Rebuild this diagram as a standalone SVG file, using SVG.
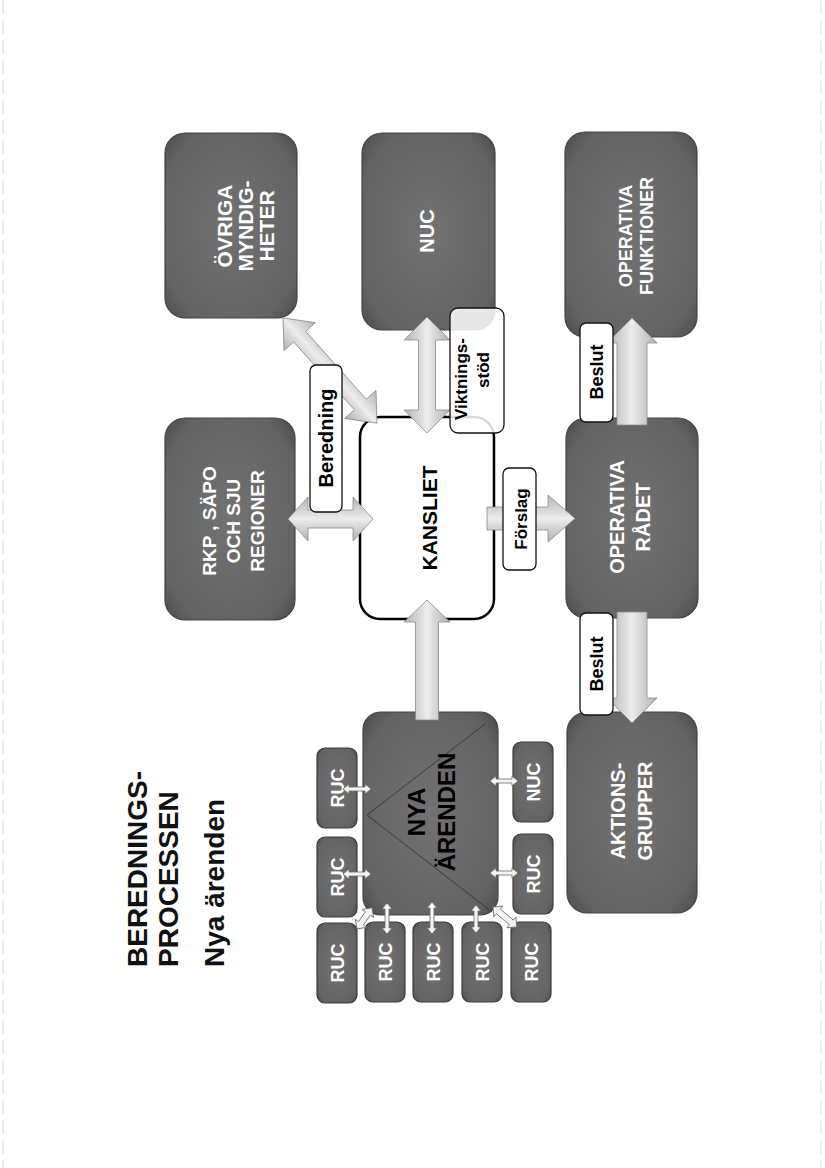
<svg xmlns="http://www.w3.org/2000/svg" width="825" height="1168" viewBox="0 0 825 1168">
  <defs>
    <radialGradient id="gbox" cx="50%" cy="50%" r="70%">
      <stop offset="0" stop-color="#727272"/>
      <stop offset="0.8" stop-color="#636363"/>
      <stop offset="1" stop-color="#4a4a4a"/>
    </radialGradient>
    <linearGradient id="gx" x1="0" y1="0" x2="1" y2="0">
      <stop offset="0" stop-color="#b4b4b4"/>
      <stop offset="0.5" stop-color="#ececec"/>
      <stop offset="1" stop-color="#b0b0b0"/>
    </linearGradient>
    <linearGradient id="gy" x1="0" y1="0" x2="0" y2="1">
      <stop offset="0" stop-color="#b4b4b4"/>
      <stop offset="0.5" stop-color="#ececec"/>
      <stop offset="1" stop-color="#b0b0b0"/>
    </linearGradient>
    <style>
      .box { fill: url(#gbox); stroke: #444; stroke-width: 1.2; }
      .sbox { fill: url(#gbox); stroke: #3c3c3c; stroke-width: 1.2; }
      .wt { font-family: "Liberation Sans", Arial, sans-serif; font-weight: bold; fill: #ffffff; text-anchor: middle; }
      .bt { font-family: "Liberation Sans", Arial, sans-serif; font-weight: bold; fill: #000000; text-anchor: middle; }
      .lbl { fill: #ffffff; stroke: #111; stroke-width: 1.3; }
      .bigx { fill: url(#gx); stroke: #8a8a8a; stroke-width: 0.8; }
      .bigy { fill: url(#gy); stroke: #8a8a8a; stroke-width: 0.8; }
      .sm { fill: #f4f4f4; stroke: #6a6a6a; stroke-width: 0.8; }
      .title { font-family: "Liberation Sans", Arial, sans-serif; font-weight: bold; fill: #111; font-size: 28px; }
    </style>
  </defs>

  <!-- faint page edges -->
  <line x1="3" y1="0" x2="3" y2="1168" stroke="#d0d0d0" stroke-width="0.8" stroke-dasharray="14 6"/>
  <line x1="821" y1="0" x2="821" y2="1168" stroke="#dadada" stroke-width="0.8" stroke-dasharray="14 6"/>

  <!-- title -->
  <g id="title">
    <text class="title" transform="translate(147,967) rotate(-90)">BEREDNINGS-</text>
    <text class="title" transform="translate(178,967) rotate(-90)">PROCESSEN</text>
    <text class="title" transform="translate(224,967) rotate(-90)">Nya ärenden</text>
  </g>

  <!-- main nodes -->
  <g id="ovriga">
    <rect class="box" x="165" y="133" width="132" height="185" rx="20"/>
    <text class="wt" font-size="21" transform="translate(232,226) rotate(-90)">ÖVRIGA</text>
    <text class="wt" font-size="21" transform="translate(253,226) rotate(-90)">MYNDIG-</text>
    <text class="wt" font-size="21" transform="translate(274,226) rotate(-90)">HETER</text>
  </g>
  <g id="nuc-top">
    <rect class="box" x="362" y="133" width="133" height="197" rx="20"/>
    <text class="wt" font-size="20" transform="translate(434,231) rotate(-90)">NUC</text>
  </g>
  <g id="op-funktioner">
    <rect class="box" x="565" y="132" width="132" height="205" rx="20"/>
    <text class="wt" font-size="18" transform="translate(632,236) rotate(-90)">OPERATIVA</text>
    <text class="wt" font-size="18" transform="translate(653,236) rotate(-90)">FUNKTIONER</text>
  </g>
  <g id="rkp">
    <rect class="box" x="165" y="418" width="130" height="202" rx="20"/>
    <text class="wt" font-size="19" transform="translate(216,521) rotate(-90)">RKP , SÄPO</text>
    <text class="wt" font-size="19" transform="translate(240,521) rotate(-90)">OCH SJU</text>
    <text class="wt" font-size="19" transform="translate(264,521) rotate(-90)">REGIONER</text>
  </g>
  <g id="kansliet">
    <rect x="360" y="417" width="134" height="202" rx="20" fill="#ffffff" stroke="#000" stroke-width="2.5"/>
    <text class="bt" font-size="21" transform="translate(437,518) rotate(-90)">KANSLIET</text>
  </g>
  <g id="op-radet">
    <rect class="box" x="566" y="418" width="132" height="200" rx="20"/>
    <text class="wt" font-size="20" transform="translate(624,517) rotate(-90)">OPERATIVA</text>
    <text class="wt" font-size="20" transform="translate(650,517) rotate(-90)">RÅDET</text>
  </g>
  <g id="aktionsgrupper">
    <rect class="box" x="567" y="712" width="130" height="201" rx="20"/>
    <text class="wt" font-size="20" transform="translate(625,811) rotate(-90)">AKTIONS-</text>
    <text class="wt" font-size="20" transform="translate(652,811) rotate(-90)">GRUPPER</text>
  </g>
  <g id="nya-arenden">
    <rect class="box" x="363" y="712" width="135" height="203" rx="18"/>
    <line x1="367" y1="815" x2="485" y2="724" stroke="#3a3a3a" stroke-width="1"/>
    <line x1="367" y1="815" x2="492" y2="912" stroke="#3a3a3a" stroke-width="1"/>
    <text class="bt" font-size="24" transform="translate(425,812) rotate(-90)">NYA</text>
    <text class="bt" font-size="24" transform="translate(455,812) rotate(-90)">ÄRENDEN</text>
  </g>

  <!-- small nodes -->
  <g id="ruc-l1"><rect class="sbox" x="317" y="748" width="40" height="80" rx="8"/><text class="wt" font-size="18" transform="translate(344,788) rotate(-90)">RUC</text></g>
  <g id="ruc-l2"><rect class="sbox" x="317" y="837" width="40" height="80" rx="8"/><text class="wt" font-size="18" transform="translate(344,877) rotate(-90)">RUC</text></g>
  <g id="ruc-b1"><rect class="sbox" x="317" y="923" width="40" height="80" rx="8"/><text class="wt" font-size="18" transform="translate(344,963) rotate(-90)">RUC</text></g>
  <g id="ruc-b2"><rect class="sbox" x="365" y="922" width="40" height="80" rx="8"/><text class="wt" font-size="18" transform="translate(392,962) rotate(-90)">RUC</text></g>
  <g id="ruc-b3"><rect class="sbox" x="413" y="922" width="40" height="80" rx="8"/><text class="wt" font-size="18" transform="translate(440,962) rotate(-90)">RUC</text></g>
  <g id="ruc-b4"><rect class="sbox" x="462" y="922" width="40" height="80" rx="8"/><text class="wt" font-size="18" transform="translate(489,962) rotate(-90)">RUC</text></g>
  <g id="ruc-b5"><rect class="sbox" x="511" y="922" width="40" height="80" rx="8"/><text class="wt" font-size="18" transform="translate(538,962) rotate(-90)">RUC</text></g>
  <g id="nuc-r"><rect class="sbox" x="513" y="742" width="40" height="80" rx="8"/><text class="wt" font-size="18" transform="translate(540,782) rotate(-90)">NUC</text></g>
  <g id="ruc-r"><rect class="sbox" x="513" y="834" width="40" height="80" rx="8"/><text class="wt" font-size="18" transform="translate(540,874) rotate(-90)">RUC</text></g>

  <!-- connectors -->
  <g id="connectors">
    <!-- big arrows -->
    <path class="bigx" d="M415.5,720 L415.5,622 L404,622 L427,600 L450,622 L438.5,622 L438.5,720 Z"/>
    <path class="bigy" d="M288,519 L308,497 L308,510 L353,510 L353,497 L373,519 L353,541 L353,528 L308,528 L308,541 Z"/>
    <path class="bigy" transform="translate(283,318) rotate(48.2)" d="M0,0 L25,-21 L25,-8 L116,-8 L116,-21 L141,0 L116,21 L116,8 L25,8 L25,21 Z"/>
    <path class="bigx" d="M427,317 L450,340 L435.5,340 L435.5,410 L450,410 L427,433 L404,410 L418.5,410 L418.5,340 L404,340 Z"/>
    <path class="bigy" d="M487,507 L548,507 L548,495 L575,518.5 L548,542 L548,530 L487,530 Z"/>
    <path class="bigx" d="M617,425 L617,343 L607,343 L632,318 L657,343 L647,343 L647,425 Z"/>
    <path class="bigx" d="M617,612 L617,698 L607,698 L632,723 L657,698 L647,698 L647,612 Z"/>

    <!-- small arrows -->
    <path class="sm" d="M343,789 L349,784 L349,787 L365,787 L365,784 L371,789 L365,794 L365,791 L349,791 L349,794 Z"/>
    <path class="sm" d="M343,874 L349,869 L349,872 L365,872 L365,869 L371,874 L365,879 L365,876 L349,876 L349,879 Z"/>
    <path class="sm" d="M490,781 L496,776 L496,779 L512,779 L512,776 L518,781 L512,786 L512,783 L496,783 L496,786 Z"/>
    <path class="sm" d="M490,873 L496,868 L496,871 L512,871 L512,868 L518,873 L512,878 L512,875 L496,875 L496,878 Z"/>
    <path class="sm" d="M387,903 L392,909 L389,909 L389,928 L392,928 L387,934 L382,928 L385,928 L385,909 L382,909 Z"/>
    <path class="sm" d="M432,902 L437,908 L434,908 L434,928 L437,928 L432,934 L427,928 L430,928 L430,908 L427,908 Z"/>
    <path class="sm" d="M476,905 L481,911 L478,911 L478,927 L481,927 L476,933 L471,927 L474,927 L474,911 L471,911 Z"/>
    <path class="sm" transform="translate(357,929) rotate(-55)" d="M0,0 L7,-7 L7,-3 L19,-3 L19,-7 L26,0 L19,7 L19,3 L7,3 L7,7 Z"/>
    <path class="sm" transform="translate(493,907) rotate(40)" d="M0,0 L7,-7 L7,-3 L24,-3 L24,-7 L31,0 L24,7 L24,3 L7,3 L7,7 Z"/>
  </g>

  <!-- edge labels -->
  <g id="lbl-beredning">
    <rect class="lbl" x="310" y="365" width="32" height="147" rx="6"/>
    <text class="bt" font-size="20" transform="translate(333,438) rotate(-90)">Beredning</text>
  </g>
  <g id="lbl-viktningsstod">
    <rect x="450" y="308" width="54" height="125" rx="8" fill="#ffffff" fill-opacity="0.85" stroke="#111" stroke-width="1.3"/>
    <text class="bt" font-size="17" transform="translate(467,379) rotate(-90)">Viktnings-</text>
    <text class="bt" font-size="17" transform="translate(489,370) rotate(-90)">stöd</text>
  </g>
  <g id="lbl-forslag">
    <rect class="lbl" x="503" y="468" width="33" height="102" rx="6"/>
    <text class="bt" font-size="17" transform="translate(527,519) rotate(-90)">Förslag</text>
  </g>
  <g id="lbl-beslut-1">
    <rect class="lbl" x="580" y="323" width="33" height="99" rx="6"/>
    <text class="bt" font-size="18" transform="translate(603,372) rotate(-90)">Beslut</text>
  </g>
  <g id="lbl-beslut-2">
    <rect class="lbl" x="580" y="613" width="33" height="102" rx="6"/>
    <text class="bt" font-size="18" transform="translate(603,664) rotate(-90)">Beslut</text>
  </g>
</svg>
